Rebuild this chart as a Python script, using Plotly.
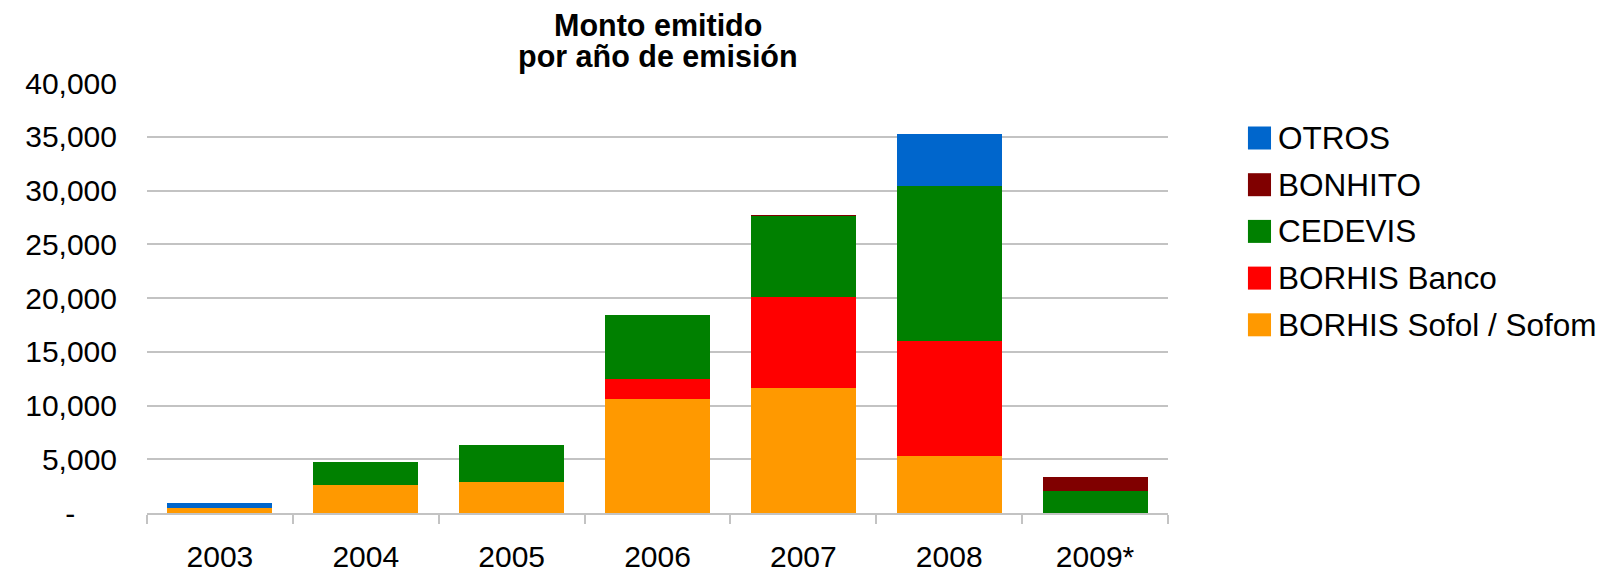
import plotly.graph_objects as go

# Issued amount by year of issuance, stacked by instrument type
years = ["2003", "2004", "2005", "2006", "2007", "2008", "2009*"]
borhis_sofol = [500, 2560, 2890, 10610, 11670, 5345, 0]
borhis_banco = [0, 0, 0, 1825, 8450, 10625, 0]
cedevis = [0, 2180, 3430, 6020, 7525, 14460, 2050]
bonhito = [0, 0, 0, 0, 70, 0, 1300]
otros = [470, 0, 0, 0, 0, 4820, 0]

series_names = ["BORHIS Sofol / Sofom", "BORHIS Banco", "CEDEVIS", "BONHITO", "OTROS"]
series_values = [borhis_sofol, borhis_banco, cedevis, bonhito, otros]
series_colors = ["#FF9900", "#FF0000", "#008000", "#800000", "#0066CC"]

y_tick_vals = [0, 5000, 10000, 15000, 20000, 25000, 30000, 35000, 40000]
y_tick_text = ["-" + "\u00a0" * 5, "5,000", "10,000", "15,000", "20,000",
               "25,000", "30,000", "35,000", "40,000"]

FONT = "Liberation Sans, Arial, sans-serif"
GRID = "#c3c3c3"

fig = go.Figure()
for name, vals, color in zip(series_names, series_values, series_colors):
    fig.add_trace(go.Bar(
        x=years, y=vals, name=name,
        marker=dict(color=color, line=dict(width=0)),
        showlegend=False,
    ))

# Legend drawn as square swatches with labels, top entry = last stacked series
legend_x0, legend_x1, legend_text_x = 1.0783, 1.1009, 1.1058
row_top_px, row_step_px = 138.3, 46.7
plot_top_px, plot_h_px = 83.3, 430.0
sq_half = 11.5 / plot_h_px
for i, (name, color) in enumerate(zip(series_names[::-1], series_colors[::-1])):
    cy_px = row_top_px + i * row_step_px
    cy = (plot_top_px + plot_h_px - cy_px) / plot_h_px
    fig.add_shape(type="rect", xref="paper", yref="paper",
                  x0=legend_x0, x1=legend_x1, y0=cy - sq_half, y1=cy + sq_half,
                  fillcolor=color, line=dict(width=0))
    fig.add_annotation(xref="paper", yref="paper", x=legend_text_x, y=cy,
                       xanchor="left", yanchor="middle", showarrow=False,
                       text=name, font=dict(family=FONT, size=31.5, color="black"))

# Two-line chart title
for text, y in [("Monto emitido", 1.134), ("por año de emisión", 1.0607)]:
    fig.add_annotation(xref="paper", yref="paper", x=0.5, y=y,
                       xanchor="center", yanchor="middle", showarrow=False,
                       text="<b>" + text + "</b>",
                       font=dict(family=FONT, size=30.5, color="black"))

fig.update_layout(
    barmode="stack",
    bargap=0.28,
    width=1602, height=574,
    margin=dict(l=147, r=434, t=83, b=61),
    paper_bgcolor="white",
    plot_bgcolor="white",
    showlegend=False,
    font=dict(family=FONT, color="black"),
)

fig.update_xaxes(
    type="category",
    range=[-0.5, 6.5],
    automargin=False,
    tickson="boundaries",
    ticks="outside", ticklen=9, tickwidth=2, tickcolor=GRID,
    showline=True, linecolor=GRID, linewidth=2,
    showgrid=False,
    tickfont=dict(family=FONT, size=30, color="black"),
    ticklabelstandoff=16,
)

fig.update_yaxes(
    range=[0, 40000],
    automargin=False,
    tickvals=y_tick_vals, ticktext=y_tick_text,
    showgrid=True, gridcolor=GRID, gridwidth=2,
    zeroline=False, showline=False, ticks="",
    tickfont=dict(family=FONT, size=30, color="black"),
    ticklabelstandoff=29,
)

fig.write_html("out.html")
